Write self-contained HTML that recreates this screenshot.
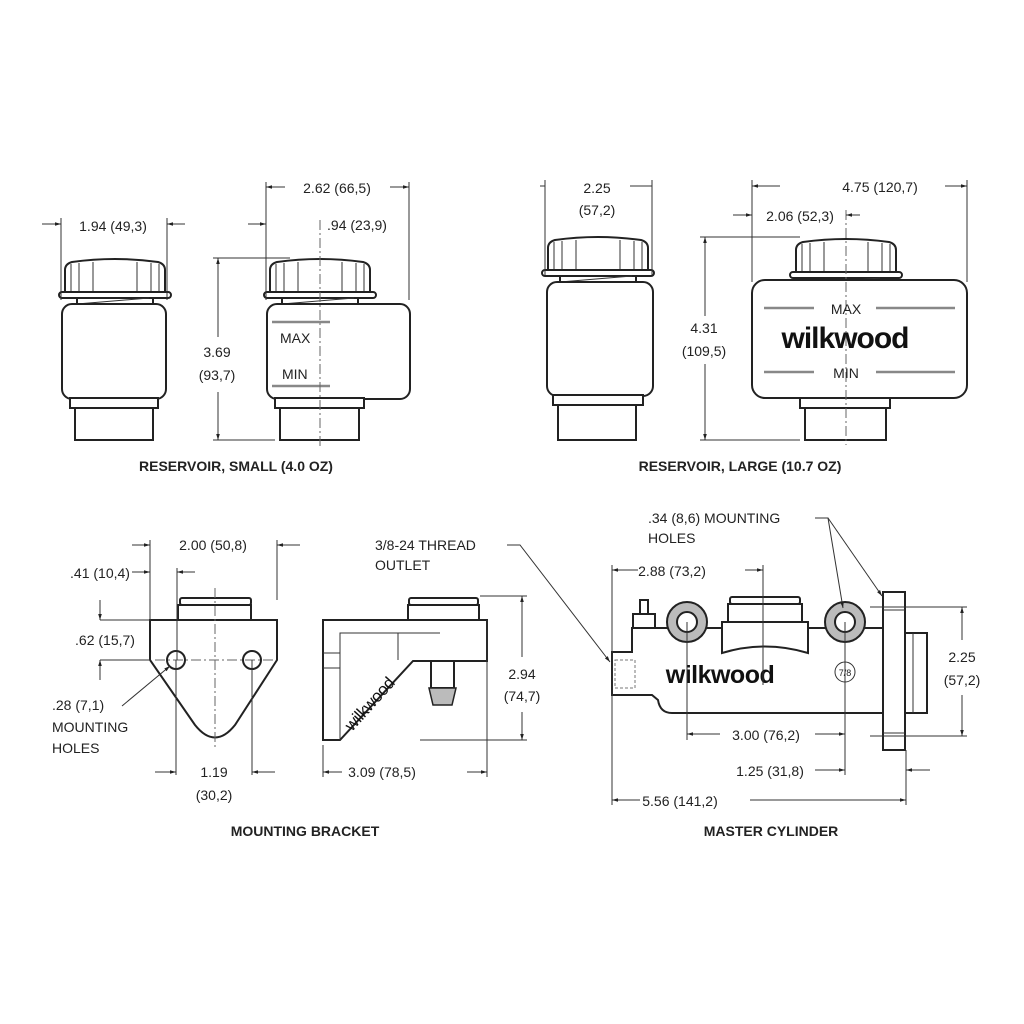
<!DOCTYPE html>
<html><head><meta charset="utf-8"><style>
html,body{margin:0;padding:0;background:#fff}
svg{display:block}
text{font-family:"Liberation Sans",sans-serif;font-size:14px;fill:#222}
.b{font-weight:bold;font-size:14px}
.s{stroke:#222;stroke-width:2;fill:#fff}
.d{stroke:#333;stroke-width:1;fill:none}
.c{stroke:#666;stroke-width:1;fill:none;stroke-dasharray:10 3 2 3}
.w{font-family:"Liberation Sans",sans-serif;font-weight:bold;fill:#111}
</style></head><body>
<svg width="1024" height="1024" viewBox="0 0 1024 1024" xmlns="http://www.w3.org/2000/svg">
<defs>
<marker id="a" viewBox="0 0 10 10" refX="10" refY="5" markerWidth="6" markerHeight="6" orient="auto-start-reverse"><path d="M0,2 L10,5 L0,8z" fill="#222"/></marker>
<g id="cap">
<path class="s" d="M-50,30 L-50,8 Q-50,2 -43,0 Q0,-6 43,0 Q50,2 50,8 L50,30z"/>
<path class="d" stroke-width="1.5" d="M-44,2 V30 M-36,1 V30 M-22,0 V30 M22,0 V30 M36,1 V30 M44,2 V30"/>
<rect class="s" x="-56" y="30" width="112" height="6" rx="3"/>
<rect class="s" x="-38" y="36" width="76" height="8"/>
<path class="d" stroke-width="1.5" d="M-38,42 L34,36"/>
</g>
</defs>

<!-- SMALL RESERVOIR LEFT -->
<use href="#cap" x="115" y="262"/>
<rect class="s" x="62" y="304" width="104" height="95" rx="10"/>
<rect class="s" x="70" y="398" width="88" height="10"/>
<rect class="s" x="75" y="408" width="78" height="32"/>
<path class="d" d="M61,300 V218 M167,300 V218"/>
<line class="d" x1="42" y1="224" x2="61" y2="224" marker-end="url(#a)"/>
<line class="d" x1="185" y1="224" x2="167" y2="224" marker-end="url(#a)"/>
<text x="113" y="231" text-anchor="middle">1.94 (49,3)</text>

<!-- SMALL RESERVOIR RIGHT -->
<use href="#cap" x="320" y="262"/>
<rect class="s" x="267" y="304" width="143" height="95" rx="10"/>
<rect class="s" x="275" y="398" width="89" height="10"/>
<rect class="s" x="280" y="408" width="79" height="32"/>
<line stroke="#888" stroke-width="2.5" x1="272" y1="322" x2="330" y2="322"/>
<line stroke="#888" stroke-width="2.5" x1="272" y1="386" x2="330" y2="386"/>
<text x="280" y="343">MAX</text>
<text x="282" y="379">MIN</text>
<line class="c" x1="320" y1="220" x2="320" y2="448"/>
<path class="d" d="M266,300 V182 M409,300 V182"/>
<line class="d" x1="285" y1="187" x2="266" y2="187" marker-end="url(#a)"/>
<line class="d" x1="390" y1="187" x2="409" y2="187" marker-end="url(#a)"/>
<text x="337" y="193" text-anchor="middle">2.62 (66,5)</text>
<line class="d" x1="248" y1="224" x2="266" y2="224" marker-end="url(#a)"/>
<text x="357" y="230" text-anchor="middle">.94 (23,9)</text>
<line class="d" x1="213" y1="258" x2="290" y2="258"/>
<line class="d" x1="213" y1="440" x2="275" y2="440"/>
<line class="d" x1="218" y1="337" x2="218" y2="258" marker-end="url(#a)"/>
<line class="d" x1="218" y1="392" x2="218" y2="440" marker-end="url(#a)"/>
<text x="217" y="357" text-anchor="middle">3.69</text>
<text x="217" y="380" text-anchor="middle">(93,7)</text>
<text class="b" x="236" y="471" text-anchor="middle">RESERVOIR, SMALL (4.0 OZ)</text>

<!-- LARGE RESERVOIR LEFT -->
<use href="#cap" x="598" y="240"/>
<rect class="s" x="547" y="282" width="106" height="114" rx="10"/>
<rect class="s" x="553" y="395" width="90" height="10"/>
<rect class="s" x="558" y="405" width="78" height="35"/>
<path class="d" d="M545,275 V180 M652,275 V180"/>
<line class="d" x1="540" y1="186" x2="545" y2="186"/>
<line class="d" x1="630" y1="186" x2="652" y2="186"/>
<text x="597" y="193" text-anchor="middle">2.25</text>
<text x="597" y="215" text-anchor="middle">(57,2)</text>

<!-- LARGE RESERVOIR RIGHT -->
<use href="#cap" x="846" y="242"/>
<rect class="s" x="752" y="280" width="215" height="118" rx="13"/>
<rect class="s" x="800" y="398" width="90" height="10"/>
<rect class="s" x="805" y="408" width="81" height="32"/>
<line stroke="#888" stroke-width="2.5" x1="764" y1="308" x2="814" y2="308"/>
<line stroke="#888" stroke-width="2.5" x1="876" y1="308" x2="955" y2="308"/>
<line stroke="#888" stroke-width="2.5" x1="764" y1="372" x2="814" y2="372"/>
<line stroke="#888" stroke-width="2.5" x1="876" y1="372" x2="955" y2="372"/>
<line class="c" x1="846" y1="210" x2="846" y2="445"/>
<text x="846" y="314" text-anchor="middle">MAX</text>
<text x="846" y="378" text-anchor="middle">MIN</text>
<text class="w" x="845" y="348" text-anchor="middle" style="font-size:30px;letter-spacing:-1px">wilkwood</text>
<path class="d" d="M752,282 V180 M967,282 V180"/>
<line class="d" x1="780" y1="186" x2="752" y2="186" marker-end="url(#a)"/>
<line class="d" x1="945" y1="186" x2="967" y2="186" marker-end="url(#a)"/>
<text x="880" y="192" text-anchor="middle">4.75 (120,7)</text>
<line class="d" x1="733" y1="215" x2="752" y2="215" marker-end="url(#a)"/>
<line class="d" x1="860" y1="215" x2="846" y2="215" marker-end="url(#a)"/>
<text x="800" y="221" text-anchor="middle">2.06 (52,3)</text>
<line class="d" x1="700" y1="237" x2="800" y2="237"/>
<line class="d" x1="700" y1="440" x2="800" y2="440"/>
<line class="d" x1="705" y1="316" x2="705" y2="237" marker-end="url(#a)"/>
<line class="d" x1="705" y1="364" x2="705" y2="440" marker-end="url(#a)"/>
<text x="704" y="333" text-anchor="middle">4.31</text>
<text x="704" y="356" text-anchor="middle">(109,5)</text>
<text class="b" x="740" y="471" text-anchor="middle">RESERVOIR, LARGE (10.7 OZ)</text>

<!-- BRACKET FRONT -->
<rect class="s" x="180" y="598" width="71" height="7" rx="2"/>
<rect class="s" x="178" y="605" width="73" height="15"/>
<path class="s" d="M150,620 H277 V660 L235,725 Q215,750 195,725 L150,660 Z"/>
<circle class="s" cx="176" cy="660" r="9"/>
<circle class="s" cx="252" cy="660" r="9"/>
<line class="c" x1="215" y1="588" x2="215" y2="750"/>
<line class="c" x1="155" y1="660" x2="275" y2="660"/>
<path class="d" d="M150,620 V540 M277,600 V540 M177,660 V568 M252,660 V775 M176,660 V775"/>
<line class="d" x1="132" y1="545" x2="150" y2="545" marker-end="url(#a)"/>
<line class="d" x1="300" y1="545" x2="277" y2="545" marker-end="url(#a)"/>
<text x="213" y="550" text-anchor="middle">2.00 (50,8)</text>
<line class="d" x1="132" y1="572" x2="150" y2="572" marker-end="url(#a)"/>
<line class="d" x1="195" y1="572" x2="177" y2="572" marker-end="url(#a)"/>
<text x="100" y="578" text-anchor="middle">.41 (10,4)</text>
<path class="d" d="M100,620 H150 M100,660 H150"/>
<line class="d" x1="100" y1="600" x2="100" y2="620" marker-end="url(#a)"/>
<line class="d" x1="100" y1="680" x2="100" y2="660" marker-end="url(#a)"/>
<text x="105" y="645" text-anchor="middle">.62 (15,7)</text>
<line class="d" x1="122" y1="706" x2="170" y2="666" marker-end="url(#a)"/>
<text x="52" y="710">.28 (7,1)</text>
<text x="52" y="732">MOUNTING</text>
<text x="52" y="753">HOLES</text>
<line class="d" x1="155" y1="772" x2="176" y2="772" marker-end="url(#a)"/>
<line class="d" x1="275" y1="772" x2="252" y2="772" marker-end="url(#a)"/>
<text x="214" y="777" text-anchor="middle">1.19</text>
<text x="214" y="800" text-anchor="middle">(30,2)</text>

<!-- BRACKET SIDE -->
<rect class="s" x="409" y="598" width="69" height="7" rx="2"/>
<rect class="s" x="408" y="605" width="71" height="15"/>
<path class="s" d="M323,620 H487 V661 H413 L340,740 H323 Z"/>
<path class="d" stroke-width="2" d="M340,740 V633 H440 M398,633 V660 M323,653 H340 M323,668 H340"/>
<rect class="s" x="431" y="661" width="23" height="27"/>
<path d="M429,688 H456 L452,705 H433 Z" fill="#bbb" stroke="#222" stroke-width="1.5"/>
<text class="w" style="font-size:17px;font-weight:normal;letter-spacing:-0.5px" transform="translate(352,732) rotate(-48)">wilkwood</text>
<path class="d" d="M323,745 V777 M487,620 V777 M480,596 H527 M420,740 H527"/>
<line class="d" x1="522" y1="657" x2="522" y2="596" marker-end="url(#a)"/>
<line class="d" x1="522" y1="712" x2="522" y2="740" marker-end="url(#a)"/>
<text x="522" y="679" text-anchor="middle">2.94</text>
<text x="522" y="701" text-anchor="middle">(74,7)</text>
<line class="d" x1="342" y1="772" x2="323" y2="772" marker-end="url(#a)"/>
<line class="d" x1="467" y1="772" x2="487" y2="772" marker-end="url(#a)"/>
<text x="382" y="777" text-anchor="middle">3.09 (78,5)</text>
<text x="375" y="550">3/8-24 THREAD</text>
<text x="375" y="570">OUTLET</text>
<polyline class="d" points="507,545 520,545 610,662" marker-end="url(#a)"/>
<text class="b" x="305" y="836" text-anchor="middle">MOUNTING BRACKET</text>

<!-- MASTER CYLINDER -->
<path class="s" d="M612,652 H632 V628 H885 V713 H672 Q660,713 658,700 L652,695 H612 Z"/>
<rect x="615" y="660" width="20" height="28" fill="none" stroke="#777" stroke-dasharray="3 2"/>
<path class="s" d="M640,600 h8 v14 h-8z M633,614 h22 v14 h-22z"/>
<rect class="s" x="883" y="592" width="22" height="158"/>
<rect class="s" x="905" y="633" width="22" height="80"/>
<path class="d" d="M913,633 V713 M883,610 H905 M883,733 H905"/>
<circle cx="687" cy="622" r="20" fill="#bbb" stroke="#222" stroke-width="2"/>
<circle cx="687" cy="622" r="10" fill="#fff" stroke="#222" stroke-width="2"/>
<circle cx="845" cy="622" r="20" fill="#bbb" stroke="#222" stroke-width="2"/>
<circle cx="845" cy="622" r="10" fill="#fff" stroke="#222" stroke-width="2"/>
<rect class="s" x="730" y="597" width="70" height="7" rx="2"/>
<rect class="s" x="728" y="604" width="74" height="18"/>
<path class="s" d="M722,622 H808 V653 Q765,640 722,653 Z"/>
<text class="w" x="720" y="683" text-anchor="middle" style="font-size:25px;letter-spacing:-0.5px">wilkwood</text>
<circle cx="845" cy="672" r="10" fill="#fff" stroke="#333"/>
<text x="845" y="676" text-anchor="middle" style="font-size:9px">7/8</text>
<path class="d" d="M612,565 V805 M763,565 V685 M687,622 V740 M845,622 V775 M906,750 V805 M870,607 H967 M870,736 H967"/>
<line class="d" x1="638" y1="570" x2="612" y2="570" marker-end="url(#a)"/>
<line class="d" x1="745" y1="570" x2="763" y2="570" marker-end="url(#a)"/>
<text x="672" y="576" text-anchor="middle">2.88 (73,2)</text>
<line class="d" x1="720" y1="734" x2="687" y2="734" marker-end="url(#a)"/>
<line class="d" x1="815" y1="734" x2="845" y2="734" marker-end="url(#a)"/>
<text x="766" y="740" text-anchor="middle">3.00 (76,2)</text>
<line class="d" x1="815" y1="770" x2="845" y2="770" marker-end="url(#a)"/>
<line class="d" x1="930" y1="770" x2="906" y2="770" marker-end="url(#a)"/>
<text x="770" y="776" text-anchor="middle">1.25 (31,8)</text>
<line class="d" x1="640" y1="800" x2="612" y2="800" marker-end="url(#a)"/>
<line class="d" x1="750" y1="800" x2="906" y2="800" marker-end="url(#a)"/>
<text x="680" y="806" text-anchor="middle">5.56 (141,2)</text>
<line class="d" x1="962" y1="640" x2="962" y2="607" marker-end="url(#a)"/>
<line class="d" x1="962" y1="695" x2="962" y2="736" marker-end="url(#a)"/>
<text x="962" y="662" text-anchor="middle">2.25</text>
<text x="962" y="685" text-anchor="middle">(57,2)</text>
<text x="648" y="523">.34 (8,6) MOUNTING</text>
<text x="648" y="543">HOLES</text>
<polyline class="d" points="815,518 828,518 843,608" marker-end="url(#a)"/>
<line class="d" x1="828" y1="518" x2="882" y2="596" marker-end="url(#a)"/>
<text class="b" x="771" y="836" text-anchor="middle">MASTER CYLINDER</text>
</svg>
</body></html>
